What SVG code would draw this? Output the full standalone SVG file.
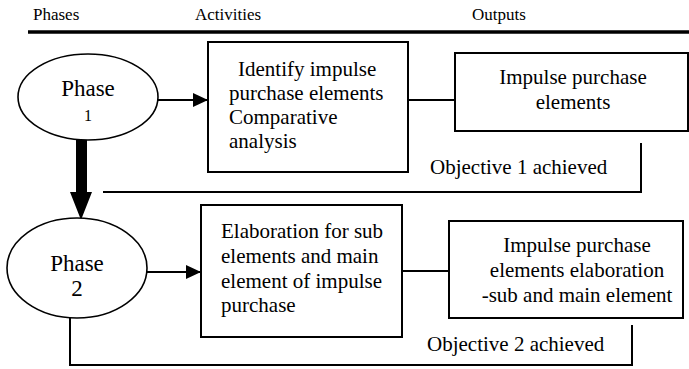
<svg xmlns="http://www.w3.org/2000/svg" width="689" height="369" viewBox="0 0 689 369">
<style>
text{font-family:"Liberation Serif","Times New Roman",serif;fill:#000}
.h{font-size:17px}
.b{font-size:21px}
.p{font-size:23px}
.box{fill:#fff;stroke:#000;stroke-width:2}
.ell{fill:#fff;stroke:#000;stroke-width:1.6}
.ln{fill:none;stroke:#000;stroke-width:2}
</style>
<defs>
<marker id="ah" markerWidth="15" markerHeight="14" refX="14" refY="7" orient="auto" markerUnits="userSpaceOnUse">
<path d="M0,0 L15,7 L0,14 Z" fill="#000"/>
</marker>
</defs>
<g id="header">
<text class="h" x="33" y="20">Phases</text>
<text class="h" x="228" y="20" text-anchor="middle">Activities</text>
<text class="h" x="499" y="20" text-anchor="middle">Outputs</text>
<line x1="28" y1="32" x2="689" y2="32" stroke="#000" stroke-width="3.5"/>
</g>
<g id="connectors">
<line class="ln" x1="155" y1="100" x2="207" y2="100" marker-end="url(#ah)"/>
<line class="ln" x1="408" y1="100" x2="455" y2="100"/>
<polyline class="ln" points="641,143 641,192 103,192"/>
<path d="M76,140 L87,140 L87,192 L92,192 L81,220 L70,192 L76,192 Z" fill="#000"/>
<line class="ln" x1="147" y1="272" x2="200" y2="272" marker-end="url(#ah)"/>
<line class="ln" x1="402" y1="271" x2="449" y2="271"/>
<polyline class="ln" points="70,318 70,365 632,365 632,325"/>
<text class="b" x="430" y="174">Objective 1 achieved</text>
<text class="b" x="427" y="351">Objective 2 achieved</text>
</g>
<g id="phase1">
<ellipse class="ell" cx="88" cy="97" rx="70" ry="43"/>
<text class="p" x="88" y="96" text-anchor="middle">Phase</text>
<text x="88" y="121" text-anchor="middle" font-size="16">1</text>
</g>
<g id="activity1">
<rect class="box" x="208" y="42" width="200" height="130"/>
<text class="b" x="238" y="76">Identify impulse</text>
<text class="b" x="229" y="100">purchase elements</text>
<text class="b" x="229" y="124">Comparative</text>
<text class="b" x="229" y="148">analysis</text>
</g>
<g id="output1">
<rect class="box" x="455" y="53" width="233" height="78"/>
<text class="b" x="573" y="84" text-anchor="middle">Impulse purchase</text>
<text class="b" x="573" y="109" text-anchor="middle">elements</text>
</g>
<g id="phase2">
<ellipse class="ell" cx="77" cy="268" rx="70" ry="50"/>
<text class="p" x="77" y="271" text-anchor="middle">Phase</text>
<text class="p" x="77" y="296" text-anchor="middle">2</text>
</g>
<g id="activity2">
<rect class="box" x="201" y="205" width="201" height="132"/>
<text class="b" x="221" y="238">Elaboration for sub</text>
<text class="b" x="221" y="263">elements and main</text>
<text class="b" x="221" y="288">element of impulse</text>
<text class="b" x="221" y="312">purchase</text>
</g>
<g id="output2">
<rect class="box" x="449" y="221" width="234" height="97"/>
<text class="b" x="577" y="252" text-anchor="middle">Impulse purchase</text>
<text class="b" x="577" y="277" text-anchor="middle">elements elaboration</text>
<text class="b" x="577" y="302" text-anchor="middle">-sub and main element</text>
</g>
</svg>
